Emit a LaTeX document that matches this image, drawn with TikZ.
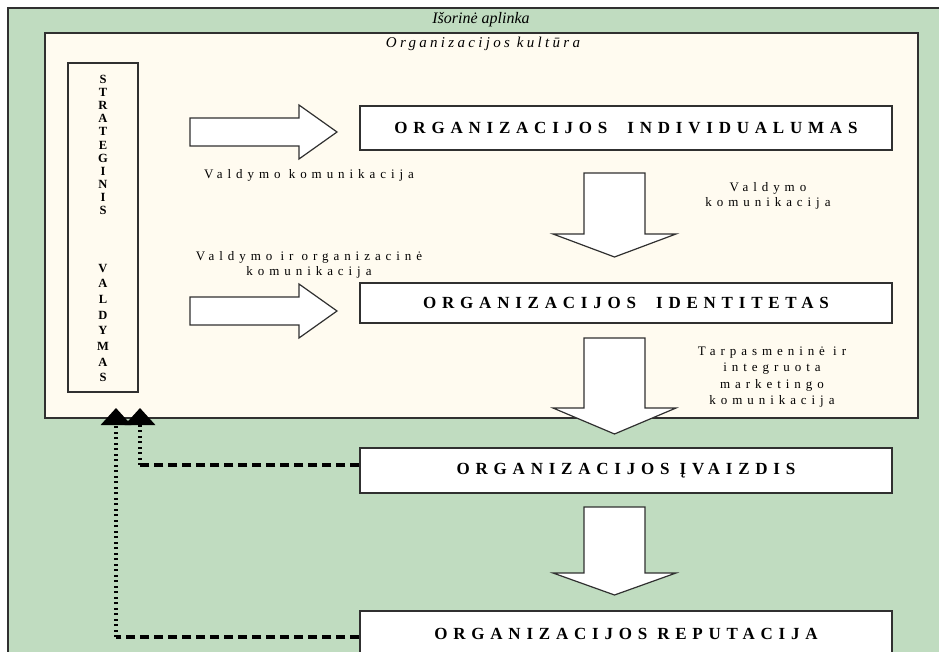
\documentclass[tikz,border=0pt]{standalone}
\usepackage{fontspec}
\setmainfont{Liberation Serif}
\newfontfamily\lblfont[LetterSpace=38]{Liberation Serif}
\newfontfamily\boxfont[LetterSpace=34]{Liberation Serif}
\newfontfamily\ttlfont[LetterSpace=22]{Liberation Serif}
\usetikzlibrary{arrows.meta}
\definecolor{moneygreen}{HTML}{C0DCC0}
\definecolor{cream}{HTML}{FFFBF0}
\definecolor{edge}{HTML}{303030}
\begin{document}
\begin{tikzpicture}[x=1pt,y=-1pt,
  panel/.style={draw=edge,line width=1.5pt},
  stagebox/.style={draw=edge,line width=1.5pt,fill=white,minimum width=532pt,inner sep=0pt,
    font=\boxfont\bfseries\fontsize{17}{20}\selectfont},
  lbl/.style={font=\lblfont\fontsize{13}{15}\selectfont,align=center,inner sep=0pt},
  blockarrow/.style={draw=edge,line width=1.2pt,fill=white,line join=miter},
  fb/.style={line width=3.5pt,dash pattern=on 9pt off 5pt},
  fbv/.style={line width=3.5pt,dash pattern=on 2pt off 3.5pt},
  letters/.style={font=\bfseries\fontsize{12.5}{13.1}\selectfont,align=center,inner sep=0pt},
]
\clip (0,0) rectangle (939,652);
\fill[white] (0,0) rectangle (939,652);
% panels
\draw[panel,fill=moneygreen] (8,8) rectangle (960,680);
\draw[panel,fill=cream] (45,33) rectangle (918,418);
\node[font=\itshape\fontsize{16}{18}\selectfont] (outertitle) at (481,20) {Išorinė aplinka};
\node[font=\ttlfont\itshape\fontsize{15}{17}\selectfont] (innertitle) at (483,44) {Organizacijos kultūra};
% strategic management box
\node[draw=edge,line width=1.5pt,minimum width=70pt,minimum height=329pt,inner sep=0pt] (strat) at (103,227.5) {};
\node[letters] (sw1) at (103,145) {S\\T\\R\\A\\T\\E\\G\\I\\N\\I\\S};
\node[letters,font=\bfseries\fontsize{12.5}{15.7}\selectfont] (sw2) at (103,323) {V\\A\\L\\D\\Y\\M\\A\\S};
% stage boxes
\node[stagebox,minimum height=44pt] (indiv) at (626,128) {ORGANIZACIJOS\ \ INDIVIDUALUMAS};
\node[stagebox,minimum height=40pt] (ident) at (626,303) {ORGANIZACIJOS\ \ IDENTITETAS};
\node[stagebox,minimum height=45pt] (ivaiz) at (626,470.5) {ORGANIZACIJOS ĮVAIZDIS};
\node[stagebox,minimum height=46pt] (reput) at (626,634) {ORGANIZACIJOS REPUTACIJA};
% block arrows
\draw[blockarrow] (190,118) -- (299,118) -- (299,105) -- (337,132) -- (299,159) -- (299,146) -- (190,146) -- cycle;
\draw[blockarrow] (190,297) -- (299,297) -- (299,284) -- (337,311) -- (299,338) -- (299,325) -- (190,325) -- cycle;
\draw[blockarrow] (584,173) -- (645,173) -- (645,234) -- (676,234) -- (614.5,257) -- (553,234) -- (584,234) -- cycle;
\draw[blockarrow] (584,338) -- (645,338) -- (645,408) -- (676,408) -- (614.5,434) -- (553,408) -- (584,408) -- cycle;
\draw[blockarrow] (584,507) -- (645,507) -- (645,573) -- (676,573) -- (614.5,595) -- (553,573) -- (584,573) -- cycle;
% labels
\node[lbl] (l1) at (309,175) {Valdymo komunikacija};
\node[lbl] (l2) at (309,265) {Valdymo ir organizacinė\\komunikacija};
\node[lbl] (l3) at (768,196) {Valdymo\\komunikacija};
\node[lbl,font=\lblfont\fontsize{13}{16.3}\selectfont] (l4) at (772,377) {Tarpasmeninė ir\\integruota\\marketingo\\komunikacija};
% feedback connectors
\coordinate (tipA) at (116,408);
\coordinate (tipB) at (140,408);
\coordinate (cornA) at (116,637);
\coordinate (cornB) at (140,465);
\draw[fb] ([yshift=5.5pt]ivaiz.west) -- (cornB);
\draw[fbv,-{Triangle[width=30pt,length=17pt]}] (cornB) -- (tipB);
\draw[fb] ([yshift=-3pt]reput.west) -- (cornA);
\draw[fbv,-{Triangle[width=30pt,length=17pt]}] (cornA) -- (tipA);
\end{tikzpicture}
\end{document}
